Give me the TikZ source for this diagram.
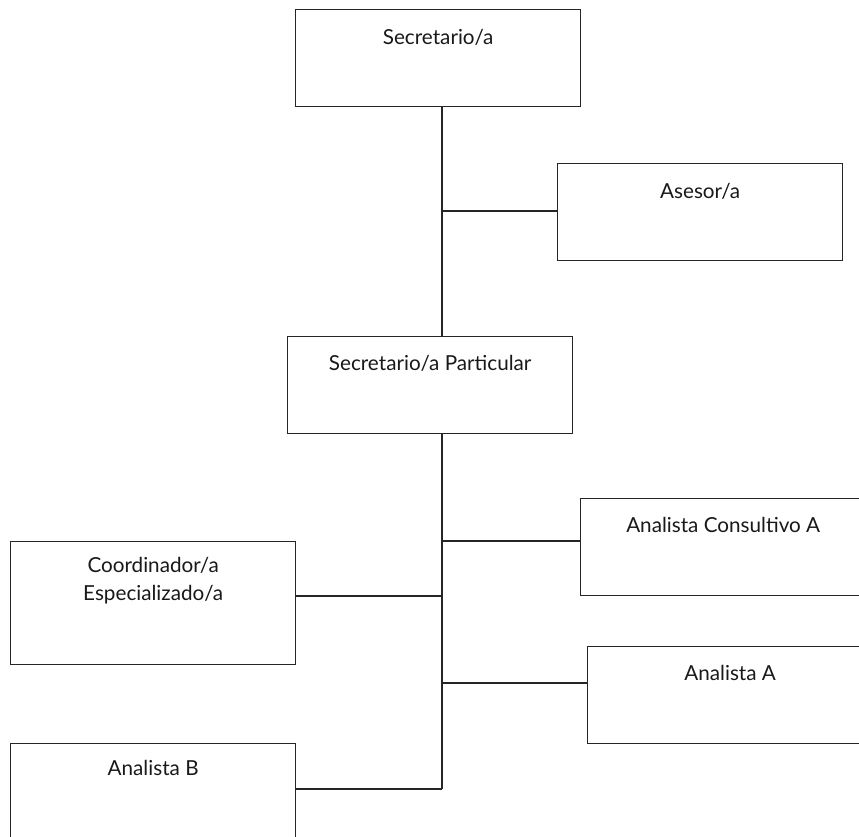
\documentclass[tikz,border=0pt]{standalone}
\usepackage{fontspec}
\setmainfont{Lato}
\begin{document}
\begin{tikzpicture}[x=0.75pt,y=-0.75pt,
  orgbox/.style={draw=black!85, line width=1pt, minimum width=213.75pt, minimum height=72.75pt, inner sep=0pt, anchor=north west},
  lbl/.style={font=\fontsize{15.5}{21}\selectfont, text=black!90, align=center, inner sep=0pt},
  link/.style={draw=black!85, line width=1pt}]
\clip (0,0) rectangle (859,836);
\useasboundingbox (0,0) rectangle (859,836);
% boxes
\node[orgbox] (sec) at (295,9) {};
\node[orgbox] (ase) at (557,163) {};
\node[orgbox] (par) at (287,336) {};
\node[orgbox] (aca) at (580,498) {};
\node[orgbox, minimum height=92pt] (coo) at (10,541) {};
\node[orgbox] (ana) at (587,646) {};
\node[orgbox] (anb) at (10,743) {};
% labels
\node[lbl] (tsec) at ([yshift=-21pt]sec.north) {Secretario/a};
\node[lbl] (tase) at ([yshift=-21pt]ase.north) {Asesor/a};
\node[lbl] (tpar) at ([yshift=-20.5pt]par.north) {Secretario/a Particular};
\node[lbl] (taca) at ([yshift=-20.5pt]aca.north) {Analista Consultivo A};
\node[lbl] (tcoo) at ([yshift=-30pt]coo.north) {Coordinador/a\\Especializado/a};
\node[lbl] (tana) at ([yshift=-20.5pt]ana.north) {Analista A};
\node[lbl] (tanb) at ([yshift=-19pt]anb.north) {Analista B};
% trunk coordinates
\coordinate (j1) at (442,211);
\coordinate (j2) at (442,541);
\coordinate (j3) at (442,596);
\coordinate (j4) at (442,683);
\coordinate (j5) at (442,789);
% connectors
\draw[link] (sec.south -| j1) -- (par.north -| j1);
\draw[link] (j1) -- (j1 -| ase.west);
\draw[link] (par.south -| j5) -- (j5);
\draw[link] (j2) -- (j2 -| aca.west);
\draw[link] (j3) -- (j3 -| coo.east);
\draw[link] (j4) -- (j4 -| ana.west);
\draw[link] (j5) -- (j5 -| anb.east);
\end{tikzpicture}
\end{document}
